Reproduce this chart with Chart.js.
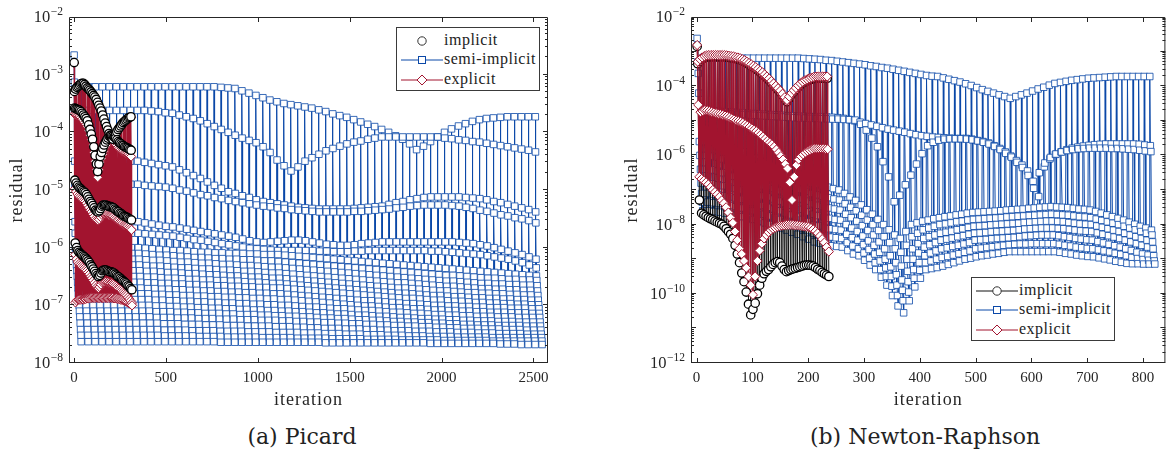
<!DOCTYPE html>
<html>
<head>
<meta charset="utf-8">
<title>Residual convergence: Picard vs Newton-Raphson</title>
<script src="https://cdn.jsdelivr.net/npm/chart.js@4.4.1/dist/chart.umd.min.js"></script>
<style>
  body { margin: 0; width: 1171px; height: 455px; background: #fff; overflow: hidden; position: relative; }
  .panel { position: absolute; top: 0; }
  .caption { position: absolute; top: 423px; width: 320px; text-align: center; font: 22px "DejaVu Serif", serif; color: #222; line-height: 28px; }
  .legend { position: absolute; width: 142px; height: 62px; border: 1px solid #3a3a3a; background: #fff; }
  .legend .row { position: absolute; left: 0; width: 142px; height: 20px; }
  .legend svg { position: absolute; left: 0; top: 0; }
  .legend span { position: absolute; left: 47px; top: 0; line-height: 20px; font: 16px "Liberation Serif", serif; letter-spacing: 0.5px; color: #222; }
</style>
</head>
<body>
<div class="panel" style="left:0"><canvas id="picard" width="585" height="418"></canvas></div>
<div class="panel" style="left:585px"><canvas id="newton" width="586" height="418"></canvas></div>
<div class="legend" id="legendPicard" style="left:396px;top:27px"></div>
<div class="legend" id="legendNewton" style="left:971px;top:277px"></div>
<div class="caption" style="left:142px">(a) Picard</div>
<div class="caption" style="left:765px">(b) Newton-Raphson</div>
<script>
// Axis ticks and names
const picardXTicks = [0, 500, 1000, 1500, 2000, 2500];
const picardYLabels = [-8, -7, -6, -5, -4, -3, -2];
const newtonXTicks = [0, 100, 200, 300, 400, 500, 600, 700, 800];
const newtonYLabels = [-12, -10, -8, -6, -4, -2];
const seriesNames = ['implicit', 'semi-implicit', 'explicit'];

// All residuals are stored as log10 values.
// Each row holds the k-th iteration of every time step.

// ---- Picard, semi-implicit: 67 time steps, 38 iterations each ----
const picSemiStart = [-2.66];
const picSemiA = [
  -3.13,-3.22,-3.21,-3.21,-3.21,-3.21,-3.21,-3.21,-3.21,-3.21,
  -3.21,-3.21,-3.21,-3.21,-3.21,-3.21,-3.21,-3.21,-3.21,-3.21,
  -3.21,-3.22,-3.23,-3.24,-3.28,-3.32,-3.36,-3.40,-3.44,-3.47,
  -3.50,-3.52,-3.54,-3.56,-3.58,-3.61,-3.64,-3.68,-3.71,-3.74,
  -3.78,-3.82,-3.86,-3.90,-3.95,-4.00,-4.06,-4.12,-4.20,-4.30,
  -4.24,-4.16,-4.08,-4.00,-3.94,-3.89,-3.85,-3.81,-3.78,-3.76,
  -3.75,-3.74,-3.73,-3.73,-3.73,-3.73,-3.73];
const picSemiB = [
  -3.61,-3.62,-3.62,-3.62,-3.62,-3.62,-3.62,-3.62,-3.62,-3.62,
  -3.62,-3.63,-3.64,-3.66,-3.67,-3.70,-3.73,-3.76,-3.80,-3.85,
  -3.90,-3.95,-4.00,-4.05,-4.10,-4.14,-4.18,-4.25,-4.35,-4.48,
  -4.58,-4.67,-4.60,-4.50,-4.44,-4.38,-4.32,-4.28,-4.24,-4.20,
  -4.17,-4.15,-4.12,-4.10,-4.08,-4.08,-4.08,-4.08,-4.08,-4.08,
  -4.08,-4.08,-4.08,-4.10,-4.11,-4.13,-4.14,-4.16,-4.17,-4.19,
  -4.21,-4.23,-4.25,-4.27,-4.29,-4.31,-4.34];
const picSemiC = [
  -4.50,-4.50,-4.50,-4.50,-4.50,-4.50,-4.50,-4.50,-4.50,-4.50,
  -4.52,-4.54,-4.56,-4.58,-4.60,-4.65,-4.70,-4.75,-4.80,-4.86,
  -4.92,-4.97,-5.03,-5.06,-5.10,-5.13,-5.17,-5.20,-5.22,-5.24,
  -5.26,-5.28,-5.30,-5.31,-5.32,-5.33,-5.33,-5.33,-5.33,-5.33,
  -5.32,-5.31,-5.30,-5.29,-5.28,-5.25,-5.22,-5.20,-5.17,-5.15,
  -5.13,-5.12,-5.12,-5.12,-5.12,-5.12,-5.13,-5.14,-5.15,-5.17,
  -5.20,-5.22,-5.25,-5.28,-5.31,-5.34,-5.38];
const picSemiD = [
  -4.90,-4.90,-4.90,-4.90,-4.90,-4.90,-4.90,-4.90,-4.90,-4.90,
  -4.92,-4.93,-4.94,-4.95,-4.97,-5.00,-5.02,-5.05,-5.08,-5.10,
  -5.13,-5.15,-5.18,-5.20,-5.22,-5.24,-5.26,-5.28,-5.29,-5.31,
  -5.32,-5.34,-5.35,-5.36,-5.37,-5.38,-5.38,-5.38,-5.38,-5.38,
  -5.37,-5.37,-5.36,-5.35,-5.34,-5.33,-5.31,-5.30,-5.28,-5.27,
  -5.26,-5.26,-5.26,-5.26,-5.27,-5.28,-5.30,-5.32,-5.35,-5.37,
  -5.40,-5.43,-5.45,-5.48,-5.50,-5.53,-5.57];
const picSemiE = [
  -5.55,-5.55,-5.55,-5.55,-5.55,-5.55,-5.55,-5.55,-5.55,-5.55,
  -5.57,-5.59,-5.61,-5.63,-5.64,-5.66,-5.68,-5.70,-5.72,-5.74,
  -5.76,-5.78,-5.80,-5.82,-5.85,-5.88,-5.90,-5.91,-5.90,-5.89,
  -5.88,-5.87,-5.87,-5.88,-5.90,-5.92,-5.94,-5.95,-5.96,-5.96,
  -5.95,-5.93,-5.92,-5.91,-5.90,-5.90,-5.90,-5.90,-5.90,-5.90,
  -5.90,-5.90,-5.90,-5.90,-5.90,-5.91,-5.92,-5.93,-5.95,-5.97,
  -6.00,-6.03,-6.06,-6.09,-6.12,-6.16,-6.20];
const picSemiF = [
  -5.75,-5.75,-5.75,-5.75,-5.75,-5.75,-5.75,-5.75,-5.75,-5.75,
  -5.76,-5.77,-5.78,-5.79,-5.80,-5.82,-5.84,-5.86,-5.87,-5.89,
  -5.91,-5.93,-5.95,-5.97,-5.99,-6.01,-6.02,-6.03,-6.04,-6.05,
  -6.05,-6.05,-6.05,-6.05,-6.05,-6.06,-6.06,-6.07,-6.07,-6.07,
  -6.06,-6.06,-6.05,-6.05,-6.05,-6.05,-6.05,-6.05,-6.05,-6.05,
  -6.05,-6.06,-6.06,-6.07,-6.08,-6.09,-6.10,-6.11,-6.12,-6.14,
  -6.16,-6.18,-6.20,-6.23,-6.26,-6.30,-6.35];
// slow tail of each step (the dense band between 1e-6 and 2e-8)
const picSemiG1 = [
  -6.00,-6.00,-6.00,-6.00,-6.00,-6.00,-6.00,-6.00,-6.00,-6.00,
  -6.01,-6.02,-6.03,-6.04,-6.05,-6.05,-6.06,-6.07,-6.08,-6.08,
  -6.09,-6.09,-6.10,-6.10,-6.10,-6.11,-6.11,-6.12,-6.12,-6.12,
  -6.13,-6.14,-6.15,-6.16,-6.17,-6.18,-6.19,-6.20,-6.21,-6.22,
  -6.23,-6.24,-6.25,-6.26,-6.27,-6.28,-6.29,-6.30,-6.31,-6.32,
  -6.33,-6.34,-6.35,-6.36,-6.37,-6.38,-6.39,-6.40,-6.41,-6.42,
  -6.43,-6.44,-6.45,-6.46,-6.47,-6.48,-6.49];
const picSemiH1 = [
  -6.10,-6.10,-6.10,-6.10,-6.10,-6.10,-6.10,-6.10,-6.10,-6.10,
  -6.11,-6.12,-6.13,-6.13,-6.14,-6.15,-6.16,-6.17,-6.17,-6.18,
  -6.19,-6.19,-6.20,-6.20,-6.21,-6.21,-6.22,-6.23,-6.23,-6.24,
  -6.25,-6.26,-6.27,-6.28,-6.29,-6.30,-6.31,-6.32,-6.33,-6.34,
  -6.35,-6.36,-6.37,-6.38,-6.39,-6.40,-6.41,-6.42,-6.43,-6.44,
  -6.45,-6.46,-6.47,-6.48,-6.48,-6.49,-6.50,-6.51,-6.52,-6.53,
  -6.53,-6.54,-6.55,-6.55,-6.56,-6.56,-6.57];
const picSemiG2 = [
  -6.20,-6.20,-6.20,-6.20,-6.20,-6.20,-6.20,-6.20,-6.20,-6.20,
  -6.21,-6.22,-6.22,-6.23,-6.24,-6.25,-6.25,-6.26,-6.27,-6.27,
  -6.28,-6.29,-6.29,-6.30,-6.31,-6.31,-6.32,-6.33,-6.34,-6.34,
  -6.35,-6.36,-6.37,-6.38,-6.39,-6.40,-6.41,-6.42,-6.43,-6.44,
  -6.45,-6.46,-6.47,-6.48,-6.49,-6.50,-6.51,-6.52,-6.53,-6.54,
  -6.55,-6.56,-6.57,-6.58,-6.58,-6.59,-6.60,-6.61,-6.62,-6.62,
  -6.63,-6.63,-6.64,-6.64,-6.65,-6.65,-6.66];
const picSemiH2 = [
  -6.30,-6.30,-6.30,-6.30,-6.30,-6.30,-6.30,-6.30,-6.30,-6.30,
  -6.31,-6.32,-6.32,-6.33,-6.34,-6.35,-6.35,-6.36,-6.37,-6.37,
  -6.38,-6.39,-6.39,-6.40,-6.41,-6.41,-6.42,-6.43,-6.44,-6.44,
  -6.45,-6.46,-6.47,-6.48,-6.49,-6.50,-6.51,-6.52,-6.53,-6.54,
  -6.55,-6.56,-6.57,-6.58,-6.59,-6.60,-6.61,-6.61,-6.62,-6.63,
  -6.64,-6.65,-6.66,-6.67,-6.67,-6.68,-6.69,-6.70,-6.71,-6.71,
  -6.72,-6.72,-6.73,-6.73,-6.74,-6.74,-6.75];
const picSemiG3 = [
  -6.40,-6.40,-6.40,-6.40,-6.40,-6.40,-6.40,-6.40,-6.40,-6.40,
  -6.41,-6.41,-6.42,-6.43,-6.43,-6.44,-6.45,-6.45,-6.46,-6.47,
  -6.47,-6.48,-6.49,-6.49,-6.50,-6.51,-6.51,-6.52,-6.53,-6.53,
  -6.54,-6.55,-6.56,-6.57,-6.58,-6.59,-6.60,-6.61,-6.62,-6.63,
  -6.64,-6.65,-6.66,-6.67,-6.68,-6.69,-6.70,-6.70,-6.71,-6.72,
  -6.73,-6.74,-6.75,-6.75,-6.76,-6.77,-6.78,-6.78,-6.79,-6.79,
  -6.80,-6.80,-6.81,-6.81,-6.82,-6.82,-6.83];
const picSemiH3 = [
  -6.50,-6.50,-6.50,-6.50,-6.50,-6.50,-6.50,-6.50,-6.50,-6.50,
  -6.51,-6.51,-6.52,-6.53,-6.53,-6.54,-6.55,-6.55,-6.56,-6.56,
  -6.57,-6.57,-6.58,-6.58,-6.59,-6.60,-6.60,-6.61,-6.62,-6.62,
  -6.63,-6.64,-6.65,-6.66,-6.67,-6.68,-6.69,-6.70,-6.71,-6.72,
  -6.73,-6.74,-6.75,-6.76,-6.77,-6.78,-6.79,-6.79,-6.80,-6.81,
  -6.82,-6.83,-6.83,-6.84,-6.85,-6.85,-6.86,-6.87,-6.87,-6.88,
  -6.88,-6.89,-6.89,-6.90,-6.90,-6.91,-6.91];
const picSemiG4 = [
  -6.60,-6.60,-6.60,-6.60,-6.60,-6.60,-6.60,-6.60,-6.60,-6.60,
  -6.61,-6.61,-6.62,-6.62,-6.63,-6.63,-6.64,-6.64,-6.65,-6.65,
  -6.66,-6.66,-6.67,-6.67,-6.68,-6.68,-6.69,-6.69,-6.70,-6.70,
  -6.71,-6.72,-6.73,-6.74,-6.75,-6.76,-6.77,-6.78,-6.79,-6.80,
  -6.81,-6.82,-6.83,-6.84,-6.85,-6.86,-6.87,-6.88,-6.88,-6.89,
  -6.90,-6.91,-6.91,-6.92,-6.93,-6.93,-6.94,-6.95,-6.95,-6.96,
  -6.96,-6.97,-6.97,-6.98,-6.98,-6.99,-6.99];
const picSemiH4 = [
  -6.70,-6.70,-6.70,-6.70,-6.70,-6.70,-6.70,-6.70,-6.70,-6.70,
  -6.71,-6.71,-6.72,-6.72,-6.73,-6.73,-6.74,-6.74,-6.75,-6.75,
  -6.76,-6.76,-6.77,-6.77,-6.78,-6.78,-6.79,-6.79,-6.80,-6.80,
  -6.81,-6.82,-6.83,-6.84,-6.85,-6.86,-6.87,-6.88,-6.89,-6.90,
  -6.91,-6.92,-6.92,-6.93,-6.94,-6.95,-6.96,-6.97,-6.97,-6.98,
  -6.99,-7.00,-7.00,-7.01,-7.01,-7.02,-7.02,-7.03,-7.03,-7.04,
  -7.04,-7.04,-7.05,-7.05,-7.05,-7.06,-7.06];
const picSemiG5 = [
  -6.80,-6.80,-6.80,-6.80,-6.80,-6.80,-6.80,-6.80,-6.80,-6.80,
  -6.80,-6.81,-6.81,-6.82,-6.82,-6.83,-6.83,-6.84,-6.84,-6.85,
  -6.85,-6.86,-6.86,-6.87,-6.87,-6.88,-6.88,-6.89,-6.89,-6.90,
  -6.90,-6.91,-6.92,-6.93,-6.94,-6.95,-6.96,-6.97,-6.98,-6.99,
  -7.00,-7.01,-7.01,-7.02,-7.03,-7.04,-7.04,-7.05,-7.06,-7.06,
  -7.07,-7.08,-7.08,-7.09,-7.09,-7.10,-7.10,-7.11,-7.11,-7.12,
  -7.12,-7.12,-7.13,-7.13,-7.13,-7.14,-7.14];
const picSemiH5 = [
  -6.90,-6.90,-6.90,-6.90,-6.90,-6.90,-6.90,-6.90,-6.90,-6.90,
  -6.90,-6.91,-6.91,-6.92,-6.92,-6.93,-6.93,-6.94,-6.94,-6.95,
  -6.95,-6.96,-6.96,-6.97,-6.97,-6.98,-6.98,-6.99,-6.99,-7.00,
  -7.00,-7.01,-7.02,-7.03,-7.03,-7.04,-7.05,-7.06,-7.06,-7.07,
  -7.08,-7.09,-7.09,-7.10,-7.11,-7.12,-7.12,-7.13,-7.14,-7.14,
  -7.15,-7.16,-7.16,-7.17,-7.17,-7.18,-7.18,-7.19,-7.19,-7.19,
  -7.20,-7.20,-7.20,-7.21,-7.21,-7.21,-7.21];
const picSemiG6 = [
  -7.00,-7.00,-7.00,-7.00,-7.00,-7.00,-7.00,-7.00,-7.00,-7.00,
  -7.00,-7.01,-7.01,-7.02,-7.02,-7.03,-7.03,-7.04,-7.04,-7.05,
  -7.05,-7.06,-7.06,-7.07,-7.07,-7.08,-7.08,-7.09,-7.09,-7.10,
  -7.10,-7.11,-7.11,-7.12,-7.13,-7.13,-7.14,-7.15,-7.15,-7.16,
  -7.17,-7.17,-7.18,-7.19,-7.19,-7.20,-7.21,-7.21,-7.22,-7.23,
  -7.23,-7.24,-7.24,-7.25,-7.25,-7.26,-7.26,-7.27,-7.27,-7.27,
  -7.28,-7.28,-7.28,-7.29,-7.29,-7.29,-7.29];
const picSemiH6 = [
  -7.10,-7.10,-7.10,-7.10,-7.10,-7.10,-7.10,-7.10,-7.10,-7.10,
  -7.10,-7.11,-7.11,-7.11,-7.12,-7.12,-7.13,-7.13,-7.14,-7.14,
  -7.14,-7.15,-7.15,-7.16,-7.16,-7.16,-7.17,-7.17,-7.18,-7.18,
  -7.19,-7.19,-7.20,-7.20,-7.21,-7.22,-7.22,-7.23,-7.23,-7.24,
  -7.25,-7.25,-7.26,-7.26,-7.27,-7.28,-7.28,-7.29,-7.29,-7.30,
  -7.30,-7.31,-7.31,-7.32,-7.32,-7.33,-7.33,-7.34,-7.34,-7.34,
  -7.35,-7.35,-7.35,-7.35,-7.36,-7.36,-7.36];
const picSemiG7 = [
  -7.20,-7.20,-7.20,-7.20,-7.20,-7.20,-7.20,-7.20,-7.20,-7.20,
  -7.20,-7.21,-7.21,-7.21,-7.22,-7.22,-7.22,-7.23,-7.23,-7.23,
  -7.24,-7.24,-7.24,-7.25,-7.25,-7.25,-7.26,-7.26,-7.26,-7.27,
  -7.27,-7.28,-7.28,-7.29,-7.29,-7.30,-7.30,-7.31,-7.31,-7.32,
  -7.32,-7.33,-7.33,-7.34,-7.34,-7.35,-7.35,-7.36,-7.36,-7.37,
  -7.37,-7.38,-7.38,-7.39,-7.39,-7.40,-7.40,-7.40,-7.41,-7.41,
  -7.41,-7.42,-7.42,-7.42,-7.43,-7.43,-7.43];
const picSemiH7 = [
  -7.31,-7.31,-7.31,-7.31,-7.31,-7.31,-7.31,-7.31,-7.31,-7.31,
  -7.31,-7.31,-7.32,-7.32,-7.32,-7.33,-7.33,-7.33,-7.34,-7.34,
  -7.34,-7.35,-7.35,-7.35,-7.36,-7.36,-7.36,-7.36,-7.37,-7.37,
  -7.37,-7.38,-7.38,-7.39,-7.39,-7.40,-7.40,-7.40,-7.41,-7.41,
  -7.41,-7.42,-7.42,-7.43,-7.43,-7.44,-7.44,-7.44,-7.45,-7.45,
  -7.45,-7.46,-7.46,-7.46,-7.47,-7.47,-7.47,-7.48,-7.48,-7.48,
  -7.49,-7.49,-7.49,-7.49,-7.50,-7.50,-7.50];
const picSemiG8 = [
  -7.42,-7.42,-7.42,-7.42,-7.42,-7.42,-7.42,-7.42,-7.42,-7.42,
  -7.42,-7.42,-7.43,-7.43,-7.43,-7.43,-7.44,-7.44,-7.44,-7.44,
  -7.45,-7.45,-7.45,-7.45,-7.46,-7.46,-7.46,-7.46,-7.47,-7.47,
  -7.47,-7.47,-7.48,-7.48,-7.48,-7.49,-7.49,-7.49,-7.50,-7.50,
  -7.50,-7.51,-7.51,-7.51,-7.52,-7.52,-7.52,-7.53,-7.53,-7.53,
  -7.54,-7.54,-7.54,-7.54,-7.55,-7.55,-7.55,-7.55,-7.55,-7.56,
  -7.56,-7.56,-7.56,-7.56,-7.56,-7.56,-7.56];
const picSemiH8 = [
  -7.52,-7.52,-7.52,-7.52,-7.52,-7.52,-7.52,-7.52,-7.52,-7.52,
  -7.52,-7.52,-7.53,-7.53,-7.53,-7.53,-7.53,-7.54,-7.54,-7.54,
  -7.54,-7.55,-7.55,-7.55,-7.55,-7.55,-7.56,-7.56,-7.56,-7.56,
  -7.56,-7.57,-7.57,-7.57,-7.57,-7.57,-7.58,-7.58,-7.58,-7.58,
  -7.58,-7.59,-7.59,-7.59,-7.59,-7.59,-7.60,-7.60,-7.60,-7.60,
  -7.60,-7.60,-7.61,-7.61,-7.61,-7.61,-7.61,-7.61,-7.61,-7.62,
  -7.62,-7.62,-7.62,-7.62,-7.62,-7.62,-7.62];
const picSemiG9 = [
  -7.63,-7.63,-7.63,-7.63,-7.63,-7.63,-7.63,-7.63,-7.63,-7.63,
  -7.63,-7.63,-7.63,-7.63,-7.63,-7.63,-7.63,-7.63,-7.63,-7.63,
  -7.64,-7.64,-7.64,-7.64,-7.64,-7.64,-7.64,-7.64,-7.64,-7.64,
  -7.64,-7.64,-7.64,-7.64,-7.64,-7.65,-7.65,-7.65,-7.65,-7.65,
  -7.65,-7.65,-7.65,-7.65,-7.65,-7.65,-7.65,-7.65,-7.65,-7.65,
  -7.66,-7.66,-7.66,-7.66,-7.66,-7.66,-7.66,-7.66,-7.66,-7.66,
  -7.67,-7.67,-7.67,-7.68,-7.68,-7.68,-7.68];
const picSemiOffsets = [0, 1, 2, 3, 4, 5, 6, 8, 10, 12, 14, 16, 18, 20, 22, 24, 26, 28, 30, 32, 34, 36, 37];
const picSemiStepIters = 38;

// ---- Picard, implicit: 45 time steps, 7 iterations each ----
const picImpStart = [-2.79];
const picImp1 = [
  -3.29,-3.25,-3.22,-3.20,-3.18,-3.16,-3.15,-3.15,-3.17,-3.20,
  -3.23,-3.25,-3.27,-3.30,-3.33,-3.36,-3.39,-3.43,-3.48,-3.53,
  -3.58,-3.63,-3.70,-3.77,-3.84,-3.90,-3.96,-4.02,-4.07,-4.10,
  -4.12,-4.08,-4.03,-3.99,-3.95,-3.92,-3.89,-3.86,-3.83,-3.81,
  -3.79,-3.77,-3.75,-3.74,-3.73];
const picImp2 = [
  -3.58,-3.59,-3.60,-3.61,-3.62,-3.64,-3.67,-3.70,-3.73,-3.76,
  -3.80,-3.87,-3.95,-4.03,-4.12,-4.25,-4.40,-4.55,-4.68,-4.55,
  -4.42,-4.35,-4.28,-4.22,-4.17,-4.13,-4.10,-4.07,-4.05,-4.05,
  -4.06,-4.08,-4.10,-4.13,-4.16,-4.18,-4.20,-4.22,-4.23,-4.25,
  -4.26,-4.27,-4.28,-4.30,-4.31];
const picImp3 = [
  -4.83,-4.88,-4.92,-4.95,-4.97,-4.99,-5.01,-5.03,-5.05,-5.08,
  -5.12,-5.16,-5.20,-5.23,-5.27,-5.31,-5.35,-5.37,-5.38,-5.36,
  -5.32,-5.28,-5.26,-5.26,-5.26,-5.27,-5.28,-5.29,-5.29,-5.30,
  -5.31,-5.33,-5.35,-5.37,-5.38,-5.40,-5.41,-5.43,-5.45,-5.46,
  -5.47,-5.48,-5.50,-5.51,-5.52];
const picImp4 = [
  -5.92,-6.00,-6.05,-6.08,-6.10,-6.12,-6.14,-6.16,-6.18,-6.20,
  -6.23,-6.26,-6.30,-6.33,-6.37,-6.41,-6.45,-6.48,-6.50,-6.48,
  -6.44,-6.40,-6.39,-6.39,-6.39,-6.40,-6.41,-6.42,-6.42,-6.43,
  -6.44,-6.46,-6.48,-6.50,-6.51,-6.53,-6.55,-6.57,-6.59,-6.61,
  -6.63,-6.66,-6.68,-6.71,-6.73];
const picImpOffsets = [0, 1, 3, 5];

// ---- Picard, explicit: 45 time steps, 7 iterations each ----
const picExpStart = [-2.80];
const picExp1 = [
  -3.30,-3.26,-3.23,-3.21,-3.19,-3.17,-3.16,-3.16,-3.18,-3.21,
  -3.24,-3.26,-3.28,-3.31,-3.34,-3.37,-3.40,-3.44,-3.49,-3.54,
  -3.59,-3.64,-3.71,-3.78,-3.85,-3.91,-3.97,-4.03,-4.08,-4.11,
  -4.13,-4.09,-4.04,-4.00,-3.96,-3.93,-3.90,-3.87,-3.84,-3.82,
  -3.80,-3.78,-3.76,-3.75,-3.74];
const picExp2 = [
  -3.68,-3.69,-3.70,-3.71,-3.72,-3.74,-3.77,-3.80,-3.83,-3.86,
  -3.90,-3.97,-4.05,-4.13,-4.22,-4.35,-4.50,-4.65,-4.78,-4.65,
  -4.52,-4.45,-4.38,-4.32,-4.27,-4.23,-4.20,-4.17,-4.15,-4.15,
  -4.16,-4.18,-4.20,-4.23,-4.26,-4.28,-4.30,-4.32,-4.33,-4.35,
  -4.36,-4.37,-4.38,-4.40,-4.42];
const picExp3 = [
  -4.98,-5.03,-5.07,-5.10,-5.12,-5.14,-5.16,-5.18,-5.20,-5.23,
  -5.27,-5.31,-5.35,-5.38,-5.42,-5.46,-5.50,-5.52,-5.53,-5.51,
  -5.47,-5.43,-5.41,-5.41,-5.41,-5.42,-5.43,-5.44,-5.44,-5.45,
  -5.46,-5.48,-5.50,-5.52,-5.53,-5.55,-5.56,-5.58,-5.60,-5.61,
  -5.62,-5.63,-5.65,-5.67,-5.69];
const picExp4 = [
  -6.12,-6.20,-6.25,-6.28,-6.30,-6.32,-6.34,-6.36,-6.38,-6.40,
  -6.43,-6.46,-6.50,-6.53,-6.57,-6.61,-6.65,-6.68,-6.70,-6.68,
  -6.64,-6.60,-6.59,-6.59,-6.59,-6.60,-6.61,-6.62,-6.62,-6.63,
  -6.64,-6.66,-6.68,-6.70,-6.71,-6.73,-6.75,-6.77,-6.79,-6.81,
  -6.83,-6.86,-6.89,-6.92,-6.96];
const picExp5 = [
  -6.95,-6.92,-6.90,-6.90,-6.90,-6.90,-6.90,-6.89,-6.89,-6.88,
  -6.88,-6.88,-6.87,-6.87,-6.87,-6.87,-6.87,-6.87,-6.87,-6.87,
  -6.87,-6.87,-6.87,-6.87,-6.87,-6.87,-6.87,-6.87,-6.87,-6.87,
  -6.88,-6.88,-6.88,-6.89,-6.89,-6.90,-6.90,-6.91,-6.92,-6.93,
  -6.94,-6.95,-6.97,-6.98,-7.00];
const picExpOffsets = [0, 1, 3, 5, 6];
const picCoupledStepIters = 7;

// ---- Newton-Raphson, semi-implicit: 82 time steps, 10 iterations each ----
const newSemiStart = [-2.62];
const newSemi0 = [
  -3.30,-3.17,-3.17,-3.18,-3.18,-3.18,-3.19,-3.19,-3.19,-3.19,
  -3.19,-3.19,-3.19,-3.19,-3.19,-3.19,-3.19,-3.19,-3.19,-3.20,
  -3.21,-3.22,-3.23,-3.25,-3.26,-3.28,-3.30,-3.32,-3.34,-3.36,
  -3.38,-3.41,-3.43,-3.46,-3.48,-3.51,-3.54,-3.57,-3.60,-3.63,
  -3.66,-3.69,-3.71,-3.72,-3.76,-3.80,-3.84,-3.88,-3.93,-3.98,
  -4.04,-4.10,-4.15,-4.20,-4.25,-4.30,-4.35,-4.30,-4.25,-4.20,
  -4.14,-4.08,-4.03,-3.97,-3.92,-3.89,-3.86,-3.83,-3.81,-3.79,
  -3.77,-3.76,-3.75,-3.74,-3.73,-3.72,-3.72,-3.72,-3.72,-3.72,
  -3.72,-3.72];
const newSemi1 = [
  -3.63,-4.70,-4.71,-4.72,-4.73,-4.74,-4.75,-4.76,-4.77,-4.78,
  -4.79,-4.80,-4.81,-4.82,-4.83,-4.84,-4.85,-4.86,-4.87,-4.87,
  -4.88,-4.88,-4.89,-4.89,-4.90,-4.91,-4.93,-4.96,-5.00,-5.04,
  -5.08,-5.12,-5.16,-5.20,-5.24,-5.27,-5.30,-5.33,-5.37,-5.40,
  -5.43,-5.45,-5.47,-5.48,-5.49,-5.50,-5.51,-5.51,-5.51,-5.53,
  -5.57,-5.60,-5.64,-5.72,-5.80,-5.90,-6.02,-6.15,-6.28,-6.45,
  -6.75,-7.19,-6.33,-6.10,-5.97,-5.90,-5.84,-5.79,-5.76,-5.73,
  -5.71,-5.69,-5.68,-5.67,-5.67,-5.67,-5.67,-5.67,-5.67,-5.68,
  -5.70,-5.72];
const newSemi2 = [
  -4.20,-4.75,-4.76,-4.77,-4.78,-4.79,-4.80,-4.81,-4.82,-4.83,
  -4.84,-4.85,-4.86,-4.87,-4.88,-4.89,-4.90,-4.91,-4.92,-4.92,
  -4.93,-4.93,-4.94,-4.94,-4.95,-4.95,-4.96,-4.97,-4.98,-5.10,
  -5.27,-5.50,-5.75,-6.18,-6.62,-7.34,-7.15,-6.85,-6.57,-6.25,
  -5.95,-5.72,-5.62,-5.56,-5.53,-5.52,-5.52,-5.52,-5.53,-5.55,
  -5.58,-5.62,-5.67,-5.74,-5.83,-5.94,-6.05,-6.20,-6.35,-6.58,
  -6.95,-6.50,-6.22,-6.06,-5.96,-5.90,-5.86,-5.83,-5.81,-5.80,
  -5.79,-5.79,-5.79,-5.79,-5.80,-5.80,-5.81,-5.82,-5.83,-5.85,
  -5.87,-5.89];
const newSemi3 = [
  -5.60,-5.60,-5.62,-5.65,-5.70,-5.75,-5.80,-5.85,-5.90,-5.98,
  -6.08,-6.18,-6.30,-6.38,-6.45,-6.52,-6.58,-6.64,-6.70,-6.75,
  -6.80,-6.84,-6.88,-6.92,-6.96,-7.00,-7.10,-7.20,-7.30,-7.43,
  -7.57,-7.70,-7.85,-8.00,-8.15,-8.30,-8.40,-8.20,-8.00,-7.95,
  -7.90,-7.87,-7.83,-7.80,-7.77,-7.75,-7.72,-7.70,-7.67,-7.65,
  -7.64,-7.63,-7.62,-7.61,-7.60,-7.58,-7.57,-7.56,-7.55,-7.53,
  -7.52,-7.50,-7.49,-7.48,-7.49,-7.50,-7.51,-7.53,-7.55,-7.56,
  -7.58,-7.62,-7.67,-7.72,-7.77,-7.82,-7.87,-7.93,-7.99,-8.05,
  -8.10,-8.16];
const newSemi4 = [
  -6.00,-6.00,-6.02,-6.05,-6.10,-6.15,-6.20,-6.25,-6.30,-6.37,
  -6.45,-6.52,-6.60,-6.67,-6.74,-6.80,-6.86,-6.92,-6.98,-7.04,
  -7.10,-7.14,-7.18,-7.22,-7.26,-7.29,-7.40,-7.50,-7.60,-7.73,
  -7.87,-8.00,-8.17,-8.35,-8.52,-8.70,-8.80,-8.60,-8.35,-8.25,
  -8.15,-8.10,-8.05,-8.00,-7.98,-7.95,-7.92,-7.90,-7.87,-7.85,
  -7.84,-7.83,-7.82,-7.81,-7.80,-7.78,-7.77,-7.76,-7.75,-7.74,
  -7.73,-7.72,-7.71,-7.70,-7.71,-7.72,-7.73,-7.75,-7.77,-7.78,
  -7.80,-7.84,-7.88,-7.92,-7.96,-8.00,-8.05,-8.10,-8.15,-8.20,
  -8.25,-8.30];
const newSemi5 = [
  -6.40,-6.40,-6.42,-6.45,-6.50,-6.55,-6.60,-6.65,-6.70,-6.76,
  -6.82,-6.88,-6.90,-6.96,-7.02,-7.08,-7.14,-7.20,-7.26,-7.32,
  -7.40,-7.44,-7.48,-7.52,-7.55,-7.58,-7.70,-7.80,-7.90,-8.03,
  -8.17,-8.30,-8.50,-8.70,-8.90,-9.10,-9.20,-9.00,-8.70,-8.55,
  -8.40,-8.35,-8.30,-8.25,-8.22,-8.19,-8.15,-8.12,-8.08,-8.05,
  -8.04,-8.03,-8.01,-8.00,-7.99,-7.98,-7.97,-7.96,-7.94,-7.93,
  -7.92,-7.91,-7.90,-7.90,-7.91,-7.92,-7.94,-7.96,-7.98,-7.99,
  -8.00,-8.04,-8.08,-8.12,-8.16,-8.20,-8.25,-8.30,-8.35,-8.40,
  -8.45,-8.50];
const newSemi6 = [
  -6.80,-6.80,-6.82,-6.85,-6.88,-6.92,-6.96,-7.00,-7.04,-7.08,
  -7.13,-7.17,-7.20,-7.26,-7.32,-7.38,-7.44,-7.50,-7.56,-7.63,
  -7.70,-7.74,-7.78,-7.82,-7.85,-7.87,-8.00,-8.10,-8.20,-8.33,
  -8.47,-8.60,-8.80,-9.00,-9.22,-9.45,-9.60,-9.35,-9.00,-8.82,
  -8.65,-8.58,-8.52,-8.45,-8.42,-8.39,-8.35,-8.32,-8.28,-8.25,
  -8.24,-8.23,-8.21,-8.20,-8.19,-8.18,-8.17,-8.15,-8.13,-8.12,
  -8.11,-8.10,-8.10,-8.10,-8.11,-8.12,-8.14,-8.16,-8.18,-8.19,
  -8.20,-8.24,-8.28,-8.32,-8.36,-8.40,-8.45,-8.50,-8.55,-8.60,
  -8.65,-8.70];
const newSemi7 = [
  -7.10,-7.10,-7.12,-7.14,-7.17,-7.20,-7.23,-7.27,-7.31,-7.35,
  -7.40,-7.45,-7.50,-7.55,-7.60,-7.66,-7.72,-7.78,-7.85,-7.92,
  -8.00,-8.04,-8.08,-8.12,-8.14,-8.16,-8.28,-8.38,-8.45,-8.58,
  -8.72,-8.85,-9.05,-9.25,-9.50,-9.75,-9.90,-9.65,-9.30,-9.10,
  -8.90,-8.82,-8.76,-8.70,-8.67,-8.63,-8.60,-8.56,-8.52,-8.45,
  -8.44,-8.43,-8.41,-8.40,-8.39,-8.38,-8.37,-8.35,-8.33,-8.32,
  -8.31,-8.30,-8.30,-8.30,-8.32,-8.35,-8.37,-8.40,-8.42,-8.44,
  -8.45,-8.49,-8.53,-8.57,-8.61,-8.65,-8.70,-8.75,-8.80,-8.85,
  -8.88,-8.90];
const newSemi8 = [
  -7.35,-7.35,-7.37,-7.39,-7.42,-7.45,-7.48,-7.52,-7.56,-7.60,
  -7.65,-7.70,-7.75,-7.80,-7.85,-7.91,-7.97,-8.03,-8.10,-8.17,
  -8.25,-8.29,-8.33,-8.36,-8.38,-8.40,-8.52,-8.62,-8.70,-8.82,
  -8.97,-9.10,-9.30,-9.50,-9.78,-10.05,-10.20,-9.95,-9.55,-9.32,
  -9.10,-9.05,-9.00,-8.95,-8.92,-8.88,-8.84,-8.80,-8.76,-8.70,
  -8.68,-8.66,-8.64,-8.62,-8.60,-8.58,-8.57,-8.56,-8.56,-8.55,
  -8.55,-8.55,-8.55,-8.55,-8.57,-8.60,-8.62,-8.65,-8.67,-8.69,
  -8.70,-8.73,-8.76,-8.79,-8.83,-8.86,-8.90,-8.95,-8.98,-9.01,
  -9.03,-9.05];
const newSemi9 = [
  -7.60,-7.60,-7.62,-7.64,-7.67,-7.70,-7.73,-7.77,-7.81,-7.85,
  -7.90,-7.95,-8.00,-8.05,-8.10,-8.16,-8.22,-8.28,-8.35,-8.42,
  -8.50,-8.54,-8.58,-8.61,-8.63,-8.65,-8.75,-8.85,-8.90,-9.03,
  -9.17,-9.30,-9.52,-9.75,-10.05,-10.35,-10.55,-10.20,-9.80,-9.55,
  -9.30,-9.27,-9.24,-9.20,-9.15,-9.10,-9.05,-9.00,-8.97,-8.93,
  -8.90,-8.88,-8.85,-8.83,-8.80,-8.78,-8.78,-8.78,-8.78,-8.78,
  -8.78,-8.78,-8.78,-8.78,-8.80,-8.83,-8.85,-8.88,-8.90,-8.92,
  -8.93,-8.96,-8.99,-9.02,-9.06,-9.09,-9.12,-9.13,-9.13,-9.14,
  -9.14,-9.14];
const newSemiOffsets = [0, 1, 2, 3, 4, 5, 6, 7, 8, 9];
const newSemiStepIters = 10;

// ---- Newton-Raphson, implicit: 59 time steps, 4 iterations each ----
const newImpStart = [-2.85];
const newImp1 = [
  -3.35,-3.28,-3.22,-3.18,-3.16,-3.15,-3.15,-3.15,-3.15,-3.15,
  -3.15,-3.15,-3.15,-3.16,-3.17,-3.18,-3.19,-3.21,-3.22,-3.24,
  -3.27,-3.30,-3.34,-3.38,-3.42,-3.46,-3.50,-3.55,-3.60,-3.65,
  -3.71,-3.77,-3.83,-3.90,-3.97,-4.04,-4.11,-4.18,-4.27,-4.37,
  -4.45,-4.35,-4.25,-4.17,-4.10,-4.03,-3.97,-3.92,-3.88,-3.85,
  -3.82,-3.80,-3.78,-3.77,-3.77,-3.77,-3.77,-3.77,-3.77];
const newImp2 = [
  -7.29,-7.67,-7.72,-7.76,-7.80,-7.83,-7.86,-7.90,-7.93,-7.96,
  -7.99,-8.05,-8.12,-8.20,-8.28,-8.40,-8.60,-8.85,-9.10,-9.40,
  -9.65,-9.95,-10.30,-10.61,-10.45,-10.27,-10.00,-9.75,-9.55,-9.42,
  -9.35,-9.30,-9.22,-9.15,-9.10,-9.07,-9.10,-9.20,-9.30,-9.36,
  -9.33,-9.30,-9.28,-9.26,-9.24,-9.22,-9.20,-9.18,-9.17,-9.17,
  -9.18,-9.20,-9.24,-9.29,-9.33,-9.38,-9.42,-9.46,-9.50];
const newImpOffsets = [0, 3];

// ---- Newton-Raphson, explicit: 59 time steps, 4 iterations each ----
const newExpStart = [-2.81];
const newExp1 = [
  -3.29,-3.22,-3.17,-3.13,-3.11,-3.10,-3.10,-3.10,-3.10,-3.10,
  -3.10,-3.10,-3.10,-3.11,-3.12,-3.13,-3.14,-3.16,-3.17,-3.19,
  -3.22,-3.25,-3.29,-3.33,-3.37,-3.41,-3.45,-3.50,-3.55,-3.60,
  -3.66,-3.72,-3.78,-3.85,-3.92,-3.99,-4.06,-4.13,-4.22,-4.32,
  -4.40,-4.30,-4.20,-4.12,-4.05,-3.98,-3.92,-3.87,-3.83,-3.80,
  -3.77,-3.75,-3.73,-3.72,-3.72,-3.72,-3.72,-3.72,-3.72];
const newExp2 = [
  -4.54,-4.75,-4.72,-4.69,-4.70,-4.72,-4.74,-4.76,-4.78,-4.80,
  -4.81,-4.83,-4.85,-4.87,-4.90,-4.93,-4.96,-4.99,-5.01,-5.03,
  -5.06,-5.10,-5.14,-5.18,-5.22,-5.26,-5.30,-5.35,-5.40,-5.46,
  -5.52,-5.58,-5.63,-5.68,-5.75,-5.83,-5.92,-6.02,-6.12,-6.25,
  -6.38,-6.78,-7.29,-6.62,-6.28,-6.12,-6.03,-5.97,-5.92,-5.88,
  -5.85,-5.82,-5.80,-5.80,-5.80,-5.80,-5.80,-5.81,-5.82];
const newExp3 = [
  -6.62,-6.68,-6.73,-6.78,-6.84,-6.92,-7.00,-7.06,-7.13,-7.20,
  -7.30,-7.38,-7.50,-7.65,-7.80,-7.95,-8.20,-8.45,-8.70,-8.85,
  -9.05,-9.25,-9.50,-9.75,-10.03,-9.50,-9.05,-8.75,-8.55,-8.40,
  -8.30,-8.22,-8.16,-8.12,-8.09,-8.06,-8.04,-8.03,-8.02,-8.01,
  -8.01,-8.01,-8.01,-8.02,-8.02,-8.03,-8.04,-8.05,-8.06,-8.07,
  -8.10,-8.14,-8.19,-8.25,-8.33,-8.42,-8.52,-8.65,-8.78];
const newExpOffsets = [0, 1, 3];
const newCoupledStepIters = 4;

// Colours
const blueLine = '#0b48a8';
const blueMarker = 'rgba(11,72,168,0.8)';
const redLine = '#a2142f';
const blackLine = '#111111';
const circleEdge = '#000000';

// Turn iteration rows into {x: iteration, y: residual} points
function buildSeries(start, rows, offsets, stepIters) {
  const pts = start.map((v, i) => ({ x: i + 1, y: Math.pow(10, v) }));
  const first = start.length + 1;
  for (let t = 0; t < rows[0].length; t++) {
    rows.forEach((row, k) => {
      pts.push({ x: first + t * stepIters + offsets[k], y: Math.pow(10, row[t]) });
    });
  }
  return pts;
}

function implicitSet(data, showLine, order) {
  return {
    label: seriesNames[0], data, order, showLine,
    borderColor: blackLine, borderWidth: 1,
    pointStyle: 'circle', pointRadius: 4.2, pointBorderWidth: 1.3,
    pointBorderColor: circleEdge, pointBackgroundColor: '#fff'
  };
}

function semiSet(data, order) {
  return {
    label: seriesNames[1], data, order,
    borderColor: blueLine, borderWidth: 1,
    pointStyle: 'rect', pointRadius: 4.6, pointBorderWidth: 1,
    pointBorderColor: blueMarker, pointBackgroundColor: '#fff'
  };
}

function explicitSet(data, width, order) {
  return {
    label: seriesNames[2], data, order,
    borderColor: redLine, borderWidth: width,
    pointStyle: 'rectRot', pointRadius: 4.6, pointBorderWidth: 1,
    pointBorderColor: redLine, pointBackgroundColor: '#fff'
  };
}

// Draws the MATLAB-style box, inward ticks, tick labels and axis titles
const framePlugin = {
  id: 'frame',
  afterDatasetsDraw(chart, args, opts) {
    const { ctx, chartArea: a } = chart;
    const xs = chart.scales.x;
    const ys = chart.scales.y;
    ctx.save();
    ctx.strokeStyle = '#262626';
    ctx.lineWidth = 1;
    ctx.beginPath();
    ctx.rect(a.left + 0.5, a.top + 0.5, a.right - a.left - 1, a.bottom - a.top - 1);
    opts.xTicks.forEach(v => {
      const px = Math.round(xs.getPixelForValue(v)) + 0.5;
      ctx.moveTo(px, a.bottom); ctx.lineTo(px, a.bottom - 5);
      ctx.moveTo(px, a.top); ctx.lineTo(px, a.top + 5);
    });
    for (let e = opts.yMin; e < opts.yMax; e++) {
      for (let m = 1; m < 10; m++) {
        const py = Math.round(ys.getPixelForValue(m * Math.pow(10, e))) - 0.5;
        const len = m === 1 ? 5 : 3;
        ctx.moveTo(a.left, py); ctx.lineTo(a.left + len, py);
        ctx.moveTo(a.right, py); ctx.lineTo(a.right - len, py);
      }
    }
    ctx.stroke();

    ctx.fillStyle = '#262626';
    ctx.font = '15px "Liberation Serif"';
    ctx.textAlign = 'center';
    ctx.textBaseline = 'alphabetic';
    opts.xTicks.forEach(v => ctx.fillText(String(v), xs.getPixelForValue(v), a.bottom + 19));

    const right = a.left - 6;
    opts.yLabels.forEach(e => {
      const py = ys.getPixelForValue(Math.pow(10, e));
      const expText = '\u2212' + Math.abs(e);
      ctx.font = '11.5px "Liberation Serif"';
      const wExp = ctx.measureText(expText).width;
      ctx.textAlign = 'left';
      ctx.fillText(expText, right - wExp, py - 2);
      ctx.font = '16.5px "Liberation Serif"';
      ctx.textAlign = 'right';
      ctx.fillText('10', right - wExp - 0.5, py + 5);
    });

    ctx.font = '18px "Liberation Serif"';
    ctx.letterSpacing = '1px';
    ctx.textAlign = 'center';
    ctx.fillText(opts.xTitle, (a.left + a.right) / 2, a.bottom + 42);
    ctx.translate(opts.yTitleX, (a.top + a.bottom) / 2);
    ctx.rotate(-Math.PI / 2);
    ctx.fillText(opts.yTitle, 0, 0);
    ctx.restore();
  }
};

function baseOptions(padding, xMin, xMax, yMin, yMax, frame) {
  return {
    responsive: false,
    animation: false,
    events: [],
    layout: { padding },
    scales: {
      x: { type: 'linear', min: xMin, max: xMax, display: false },
      y: { type: 'logarithmic', min: Math.pow(10, yMin), max: Math.pow(10, yMax), display: false }
    },
    plugins: {
      legend: { display: false },
      tooltip: { enabled: false },
      frame: Object.assign({ yMin, yMax, xTitle: 'iteration', yTitle: 'residual' }, frame)
    }
  };
}

// (a) Picard
new Chart(document.getElementById('picard'), {
  type: 'line',
  data: {
    datasets: [
      implicitSet(buildSeries(picImpStart, [picImp1, picImp2, picImp3, picImp4],
        picImpOffsets, picCoupledStepIters), false, 0),
      explicitSet(buildSeries(picExpStart, [picExp1, picExp2, picExp3, picExp4, picExp5],
        picExpOffsets, picCoupledStepIters), 1.2, 1),
      semiSet(buildSeries(picSemiStart, [picSemiA, picSemiB, picSemiC, picSemiD, picSemiE, picSemiF,
        picSemiG1, picSemiH1, picSemiG2, picSemiH2, picSemiG3, picSemiH3, picSemiG4, picSemiH4,
        picSemiG5, picSemiH5, picSemiG6, picSemiH6, picSemiG7, picSemiH7, picSemiG8, picSemiH8, picSemiG9],
        picSemiOffsets, picSemiStepIters), 2)
    ]
  },
  options: baseOptions({ left: 69, right: 37, top: 17, bottom: 55 }, -27, 2579, -8, -2,
    { xTicks: picardXTicks, yLabels: picardYLabels, yTitleX: 21.5 }),
  plugins: [framePlugin]
});

// (b) Newton-Raphson
new Chart(document.getElementById('newton'), {
  type: 'line',
  data: {
    datasets: [
      explicitSet(buildSeries(newExpStart, [newExp1, newExp2, newExp3],
        newExpOffsets, newCoupledStepIters), 1.4, 0),
      implicitSet(buildSeries(newImpStart, [newImp1, newImp2],
        newImpOffsets, newCoupledStepIters), true, 1),
      semiSet(buildSeries(newSemiStart, [newSemi0, newSemi1, newSemi2, newSemi3, newSemi4,
        newSemi5, newSemi6, newSemi7, newSemi8, newSemi9], newSemiOffsets, newSemiStepIters), 2)
    ]
  },
  options: baseOptions({ left: 106, right: 4, top: 17, bottom: 55 }, -10, 840, -12, -2,
    { xTicks: newtonXTicks, yLabels: newtonYLabels, yTitleX: 51.5 }),
  plugins: [framePlugin]
});

// Legends (line + marker + name), as in the MATLAB figure
function markerSvg(kind, color) {
  if (kind === 'circle') return `<circle cx="25" cy="10" r="4.2" fill="#fff" stroke="${color}" />`;
  if (kind === 'square') return `<rect x="21.5" y="6.5" width="7" height="7" fill="#fff" stroke="${color}" />`;
  return `<polygon points="25,5 30,10 25,15 20,10" fill="#fff" stroke="${color}" />`;
}

function makeLegend(el, items) {
  items.forEach((it, i) => {
    const row = document.createElement('div');
    row.className = 'row';
    row.style.top = (2.5 + i * 19.7) + 'px';
    const line = it.line ? `<line x1="4" y1="10" x2="46" y2="10" stroke="${it.color}" stroke-width="1" />` : '';
    row.innerHTML = `<svg width="48" height="20">${line}${markerSvg(it.marker, it.edge)}</svg><span>${it.label}</span>`;
    el.appendChild(row);
  });
}

makeLegend(document.getElementById('legendPicard'), [
  { label: seriesNames[0], marker: 'circle', edge: '#333', line: false },
  { label: seriesNames[1], marker: 'square', edge: blueLine, color: blueLine, line: true },
  { label: seriesNames[2], marker: 'diamond', edge: redLine, color: redLine, line: true }
]);
makeLegend(document.getElementById('legendNewton'), [
  { label: seriesNames[0], marker: 'circle', edge: '#333', color: blackLine, line: true },
  { label: seriesNames[1], marker: 'square', edge: blueLine, color: blueLine, line: true },
  { label: seriesNames[2], marker: 'diamond', edge: redLine, color: redLine, line: true }
]);
</script>
</body>
</html>
